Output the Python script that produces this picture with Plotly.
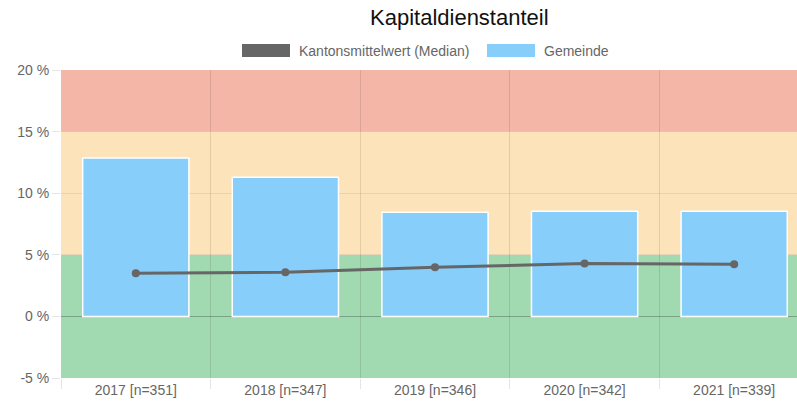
import plotly.graph_objects as go

categories = ["2017 [n=351]", "2018 [n=347]", "2019 [n=346]", "2020 [n=342]", "2021 [n=339]"]
gemeinde = [12.85, 11.3, 8.46, 8.54, 8.54]
median = [3.5, 3.58, 3.98, 4.3, 4.23]
y_ticks = [-5, 0, 5, 10, 15, 20]
y_tick_labels = ["-5 %", "0 %", "5 %", "10 %", "15 %", "20 %"]
bands = [(-5, 5, "#a1d9b0"), (5, 15, "#fde3b9"), (15, 20, "#f4b6a6")]

W, H = 797, 407
L, R, T, B = 61, 0, 70, 29
pw, ph = W - L - R, H - T - B

def px(x):  # page pixel -> paper x
    return (x - L) / pw

def py(y):  # page pixel -> paper y
    return (H - B - y) / ph

fig = go.Figure()
fig.add_trace(go.Bar(
    x=categories, y=gemeinde, name="Gemeinde", width=0.71,
    marker=dict(color="#87cefa", line=dict(color="white", width=1.5)),
    showlegend=False,
))
fig.add_trace(go.Scatter(
    x=categories, y=median, name="Kantonsmittelwert (Median)",
    mode="lines+markers", line=dict(color="#666666", width=3),
    marker=dict(color="#666666", size=8), showlegend=False,
))

shapes = []
for lo, hi, col in bands:
    shapes.append(dict(type="rect", xref="paper", yref="y", x0=0, x1=1, y0=lo, y1=hi,
                       fillcolor=col, line=dict(width=0), layer="below"))

# manual legend
legend_items = [("Kantonsmittelwert (Median)", "#666666", 242, 290),
                ("Gemeinde", "#87cefa", 487, 535)]
annotations = []
for label, col, x0, x1 in legend_items:
    shapes.append(dict(type="rect", xref="paper", yref="paper",
                       x0=px(x0), x1=px(x1), y0=py(57), y1=py(44),
                       fillcolor=col, line=dict(width=0)))
    annotations.append(dict(text=label, xref="paper", yref="paper", x=px(x1 + 7), y=py(50.5),
                            xanchor="left", yanchor="middle", showarrow=False,
                            font=dict(size=14, color="#666666", family="Liberation Sans, Arial")))

annotations.append(dict(text="Kapitaldienstanteil", xref="paper", yref="paper",
                        x=px(459), y=py(17.5), xanchor="center", yanchor="middle", showarrow=False,
                        font=dict(size=22, color="#111111", family="Liberation Sans, Arial")))

fig.update_layout(
    width=W, height=H,
    margin=dict(l=L, r=R, t=T, b=B, pad=0),
    paper_bgcolor="white", plot_bgcolor="white",
    shapes=shapes, annotations=annotations,
    font=dict(family="Liberation Sans, Arial", size=14, color="#666666"),
    bargap=0.29,
    xaxis=dict(type="category", range=[-0.5, 4.42], tickson="boundaries",
               showgrid=True, gridcolor="rgba(0,0,0,0.1)", gridwidth=1,
               ticks="outside", ticklen=10, tickcolor="rgba(0,0,0,0.1)",
               ticklabelstandoff=2,
               showline=False, zeroline=False,
               tickfont=dict(size=14, color="#666666")),
    yaxis=dict(range=[-5, 20], tickvals=y_ticks, ticktext=y_tick_labels,
               showgrid=True, gridcolor="rgba(0,0,0,0.08)", gridwidth=1,
               zeroline=True, zerolinecolor="rgba(0,0,0,0.25)", zerolinewidth=1,
               ticks="outside", ticklen=8, tickcolor="rgba(0,0,0,0.1)",
               showline=False, tickfont=dict(size=14, color="#666666")),
)

fig.write_html("out.html", config={"displayModeBar": False},
               post_script="document.body.style.margin='0';document.body.style.overflow='hidden';")
